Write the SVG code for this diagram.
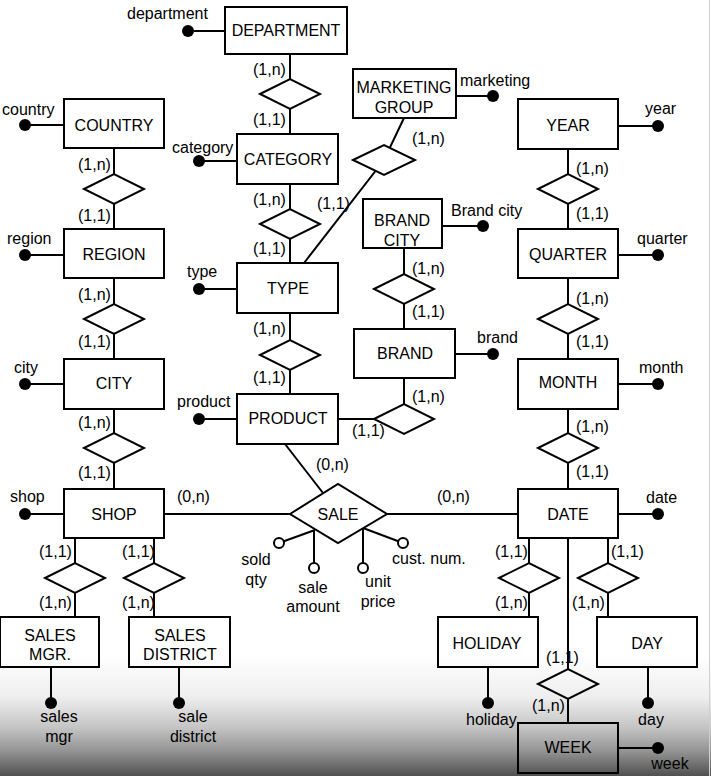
<svg xmlns="http://www.w3.org/2000/svg" width="711" height="776" viewBox="0 0 711 776">
<defs>
<linearGradient id="shade" x1="0" y1="0" x2="0" y2="1">
<stop offset="0" stop-color="#ffffff"/>
<stop offset="0.35" stop-color="#eeeeee"/>
<stop offset="0.6" stop-color="#c4c4c4"/>
<stop offset="0.8" stop-color="#929292"/>
<stop offset="1" stop-color="#505050"/>
</linearGradient>
</defs>
<style>
.box{fill:none;stroke:#000;stroke-width:2}
.rel{fill:none;stroke:#000;stroke-width:2}
.relw{fill:#fff;stroke:#000;stroke-width:2}
.ln{stroke:#000;stroke-width:2;fill:none}
.dot{fill:#000}
.odot{fill:#fff;stroke:#000;stroke-width:2}
text{font-family:"Liberation Sans",Arial,Helvetica,sans-serif;font-size:16px;fill:#000}
.c{text-anchor:middle}
</style>
<rect x="0" y="0" width="711" height="776" fill="#fff"/>
<rect x="0" y="655" width="711" height="121" fill="url(#shade)"/>
<line x1="709.5" y1="0" x2="709.5" y2="776" stroke="#d0d0d0" stroke-width="1"/>

<g id="connectors">
<!-- middle column -->
<line class="ln" x1="290" y1="54" x2="290" y2="79"/>
<line class="ln" x1="290" y1="109" x2="290" y2="134"/>
<line class="ln" x1="290" y1="184" x2="290" y2="209"/>
<line class="ln" x1="290" y1="239" x2="290" y2="263"/>
<line class="ln" x1="290" y1="313" x2="290" y2="340"/>
<line class="ln" x1="290" y1="370" x2="290" y2="394"/>
<polyline class="ln" points="404,118 384,160 304,263"/>
<line class="ln" x1="404" y1="248" x2="404" y2="274"/>
<line class="ln" x1="404" y1="304" x2="404" y2="329"/>
<line class="ln" x1="404" y1="378" x2="404" y2="404"/>
<line class="ln" x1="338" y1="419" x2="374" y2="419"/>
<line class="ln" x1="285" y1="444" x2="323" y2="493"/>
<line class="ln" x1="164" y1="514" x2="290" y2="514"/>
<line class="ln" x1="387" y1="514" x2="518" y2="514"/>
<!-- left column -->
<line class="ln" x1="114" y1="148" x2="114" y2="174"/>
<line class="ln" x1="114" y1="204" x2="114" y2="229"/>
<line class="ln" x1="114" y1="278" x2="114" y2="304"/>
<line class="ln" x1="114" y1="334" x2="114" y2="359"/>
<line class="ln" x1="114" y1="409" x2="114" y2="433"/>
<line class="ln" x1="114" y1="463" x2="114" y2="489"/>
<line class="ln" x1="75" y1="538" x2="75" y2="563"/>
<line class="ln" x1="75" y1="593" x2="75" y2="617"/>
<line class="ln" x1="154" y1="538" x2="154" y2="563"/>
<line class="ln" x1="154" y1="593" x2="154" y2="617"/>
<!-- right column -->
<line class="ln" x1="568" y1="149" x2="568" y2="174"/>
<line class="ln" x1="568" y1="204" x2="568" y2="229"/>
<line class="ln" x1="568" y1="278" x2="568" y2="304"/>
<line class="ln" x1="568" y1="334" x2="568" y2="359"/>
<line class="ln" x1="568" y1="409" x2="568" y2="433"/>
<line class="ln" x1="568" y1="463" x2="568" y2="489"/>
<line class="ln" x1="529" y1="538" x2="529" y2="563"/>
<line class="ln" x1="529" y1="593" x2="529" y2="617"/>
<line class="ln" x1="608" y1="538" x2="608" y2="563"/>
<line class="ln" x1="608" y1="593" x2="608" y2="617"/>
<line class="ln" x1="568" y1="538" x2="568" y2="669"/>
<line class="ln" x1="568" y1="699" x2="568" y2="723"/>
<!-- attribute lines -->
<line class="ln" x1="188" y1="31" x2="225" y2="31"/>
<line class="ln" x1="25" y1="125" x2="64" y2="125"/>
<line class="ln" x1="25" y1="255" x2="64" y2="255"/>
<line class="ln" x1="25" y1="384" x2="64" y2="384"/>
<line class="ln" x1="25" y1="514" x2="64" y2="514"/>
<line class="ln" x1="199" y1="161" x2="237" y2="161"/>
<line class="ln" x1="199" y1="289" x2="237" y2="289"/>
<line class="ln" x1="199" y1="419" x2="237" y2="419"/>
<line class="ln" x1="456" y1="96" x2="493" y2="96"/>
<line class="ln" x1="442" y1="226" x2="483" y2="226"/>
<line class="ln" x1="455" y1="354" x2="493" y2="354"/>
<line class="ln" x1="618" y1="126" x2="658" y2="126"/>
<line class="ln" x1="618" y1="255" x2="658" y2="255"/>
<line class="ln" x1="618" y1="384" x2="658" y2="384"/>
<line class="ln" x1="618" y1="514" x2="658" y2="514"/>
<line class="ln" x1="51" y1="667" x2="51" y2="703"/>
<line class="ln" x1="179" y1="667" x2="179" y2="703"/>
<line class="ln" x1="488" y1="667" x2="488" y2="703"/>
<line class="ln" x1="648" y1="667" x2="648" y2="703"/>
<line class="ln" x1="618" y1="748" x2="658" y2="748"/>
<!-- sale attributes -->
<line class="ln" x1="315" y1="530" x2="279" y2="543"/>
<line class="ln" x1="314" y1="530" x2="314" y2="568"/>
<line class="ln" x1="363" y1="528" x2="363" y2="568"/>
<line class="ln" x1="363" y1="528" x2="403" y2="543"/>
</g>

<g id="relationships">
<polygon class="rel" points="260,94 290,79 320,94 290,109"/>
<polygon class="rel" points="260,224 290,209 320,224 290,239"/>
<polygon class="rel" points="260,355 290,340 320,355 290,370"/>
<polygon class="relw" points="353,160 384,145 415,160 384,175"/>
<polygon class="rel" points="374,289 404,274 434,289 404,304"/>
<polygon class="rel" points="374,419 404,404 434,419 404,434"/>
<polygon class="rel" points="84,189 114,174 144,189 114,204"/>
<polygon class="rel" points="84,319 114,304 144,319 114,334"/>
<polygon class="rel" points="84,448 114,433 144,448 114,463"/>
<polygon class="rel" points="538,189 568,174 598,189 568,204"/>
<polygon class="rel" points="538,319 568,304 598,319 568,334"/>
<polygon class="rel" points="538,448 568,433 598,448 568,463"/>
<polygon class="rel" points="45,578 75,563 105,578 75,593"/>
<polygon class="rel" points="124,578 154,563 184,578 154,593"/>
<polygon class="rel" points="499,578 529,563 559,578 529,593"/>
<polygon class="rel" points="578,578 608,563 638,578 608,593"/>
<polygon class="rel" points="538,684 568,669 598,684 568,699"/>
</g>

<g id="sale">
<polygon class="rel" points="290,514 338,484 387,514 338,543"/>
<text class="c" x="338" y="520">SALE</text>
</g>

<g id="department"><rect class="box" x="225" y="7" width="122" height="47"/><text class="c" x="286" y="36">DEPARTMENT</text></g>
<g id="category"><rect class="box" x="237" y="134" width="101" height="50"/><text class="c" x="288" y="165">CATEGORY</text></g>
<g id="type"><rect class="box" x="237" y="263" width="101" height="50"/><text class="c" x="288" y="294">TYPE</text></g>
<g id="product"><rect class="box" x="237" y="394" width="101" height="50"/><text class="c" x="288" y="424">PRODUCT</text></g>
<g id="marketing-group"><rect class="box" x="353" y="69" width="103" height="49"/><text class="c" x="404" y="93">MARKETING</text><text class="c" x="404" y="113">GROUP</text></g>
<g id="brand-city"><rect class="box" x="363" y="199" width="79" height="49"/><text class="c" x="402" y="226">BRAND</text><text class="c" x="402" y="246">CITY</text></g>
<g id="brand"><rect class="box" x="354" y="329" width="101" height="49"/><text class="c" x="405" y="359">BRAND</text></g>
<g id="country"><rect class="box" x="64" y="99" width="100" height="49"/><text class="c" x="114" y="131">COUNTRY</text></g>
<g id="region"><rect class="box" x="64" y="229" width="100" height="49"/><text class="c" x="114" y="260">REGION</text></g>
<g id="city"><rect class="box" x="64" y="359" width="100" height="50"/><text class="c" x="114" y="389">CITY</text></g>
<g id="shop"><rect class="box" x="64" y="489" width="100" height="49"/><text class="c" x="114" y="520">SHOP</text></g>
<g id="year"><rect class="box" x="518" y="99" width="100" height="50"/><text class="c" x="568" y="131">YEAR</text></g>
<g id="quarter"><rect class="box" x="518" y="229" width="100" height="49"/><text class="c" x="568" y="260">QUARTER</text></g>
<g id="month"><rect class="box" x="518" y="359" width="100" height="50"/><text class="c" x="568" y="388">MONTH</text></g>
<g id="date"><rect class="box" x="518" y="489" width="100" height="49"/><text class="c" x="568" y="520">DATE</text></g>
<g id="sales-mgr"><rect class="box" x="0" y="617" width="99" height="50"/><text class="c" x="50" y="641">SALES</text><text class="c" x="50" y="660">MGR.</text></g>
<g id="sales-district"><rect class="box" x="129" y="617" width="101" height="50"/><text class="c" x="180" y="641">SALES</text><text class="c" x="180" y="660">DISTRICT</text></g>
<g id="holiday"><rect class="box" x="438" y="617" width="100" height="50"/><text class="c" x="487" y="649">HOLIDAY</text></g>
<g id="day"><rect class="box" x="597" y="617" width="100" height="50"/><text class="c" x="647" y="649">DAY</text></g>
<g id="week"><rect class="box" x="518" y="723" width="100" height="50"/><text class="c" x="568" y="753">WEEK</text></g>

<g id="attributes">
<circle class="dot" cx="188" cy="31" r="6"/><text x="127" y="19">department</text>
<circle class="dot" cx="25" cy="125" r="6"/><text x="2" y="115">country</text>
<circle class="dot" cx="25" cy="255" r="6"/><text x="7" y="244">region</text>
<circle class="dot" cx="25" cy="384" r="6"/><text x="14" y="373">city</text>
<circle class="dot" cx="25" cy="514" r="6"/><text x="10" y="502">shop</text>
<circle class="dot" cx="199" cy="161" r="6"/><text x="172" y="153">category</text>
<circle class="dot" cx="199" cy="289" r="6"/><text x="187" y="277">type</text>
<circle class="dot" cx="199" cy="419" r="6"/><text x="177" y="407">product</text>
<circle class="dot" cx="493" cy="96" r="6"/><text x="460" y="86">marketing</text>
<circle class="dot" cx="483" cy="226" r="6"/><text x="451" y="216">Brand city</text>
<circle class="dot" cx="493" cy="354" r="6"/><text x="477" y="343">brand</text>
<circle class="dot" cx="658" cy="126" r="6"/><text x="645" y="114">year</text>
<circle class="dot" cx="658" cy="255" r="6"/><text x="637" y="244">quarter</text>
<circle class="dot" cx="658" cy="384" r="6"/><text x="639" y="373">month</text>
<circle class="dot" cx="658" cy="514" r="6"/><text x="646" y="503">date</text>
<circle class="dot" cx="51" cy="703" r="6"/><text class="c" x="59" y="722">sales</text><text class="c" x="59" y="742">mgr</text>
<circle class="dot" cx="179" cy="703" r="6"/><text class="c" x="193" y="722">sale</text><text class="c" x="193" y="742">district</text>
<circle class="dot" cx="488" cy="703" r="6"/><text x="466" y="725">holiday</text>
<circle class="dot" cx="648" cy="703" r="6"/><text class="c" x="651" y="725">day</text>
<circle class="dot" cx="658" cy="748" r="6"/><text class="c" x="670" y="769">week</text>
<circle class="odot" cx="279" cy="543" r="5"/><text class="c" x="256" y="565">sold</text><text class="c" x="256" y="585">qty</text>
<circle class="odot" cx="314" cy="568" r="5"/><text class="c" x="313" y="593">sale</text><text class="c" x="313" y="612">amount</text>
<circle class="odot" cx="363" cy="568" r="5"/><text class="c" x="378" y="587">unit</text><text class="c" x="378" y="607">price</text>
<circle class="odot" cx="403" cy="543" r="5"/><text x="392" y="564">cust. num.</text>
</g>

<g id="cardinalities">
<text x="253" y="75">(1,n)</text><text x="253" y="125">(1,1)</text>
<text x="253" y="205">(1,n)</text><text x="253" y="254">(1,1)</text>
<text x="253" y="334">(1,n)</text><text x="253" y="383">(1,1)</text>
<text x="412" y="144">(1,n)</text><text x="317" y="209">(1,1)</text>
<text x="412" y="274">(1,n)</text><text x="412" y="317">(1,1)</text>
<text x="412" y="402">(1,n)</text><text x="352" y="436">(1,1)</text>
<text x="316" y="470">(0,n)</text>
<text x="177" y="502">(0,n)</text>
<text x="437" y="502">(0,n)</text>
<text x="78" y="170">(1,n)</text><text x="78" y="221">(1,1)</text>
<text x="78" y="300">(1,n)</text><text x="78" y="347">(1,1)</text>
<text x="78" y="428">(1,n)</text><text x="78" y="478">(1,1)</text>
<text x="576" y="174">(1,n)</text><text x="576" y="219">(1,1)</text>
<text x="576" y="304">(1,n)</text><text x="576" y="347">(1,1)</text>
<text x="576" y="432">(1,n)</text><text x="576" y="477">(1,1)</text>
<text x="39" y="557">(1,1)</text><text x="39" y="608">(1,n)</text>
<text x="122" y="557">(1,1)</text><text x="122" y="608">(1,n)</text>
<text x="495" y="557">(1,1)</text><text x="495" y="608">(1,n)</text>
<text x="611" y="557">(1,1)</text><text x="572" y="608">(1,n)</text>
<text x="546" y="663">(1,1)</text><text x="532" y="711">(1,n)</text>
</g>
</svg>
